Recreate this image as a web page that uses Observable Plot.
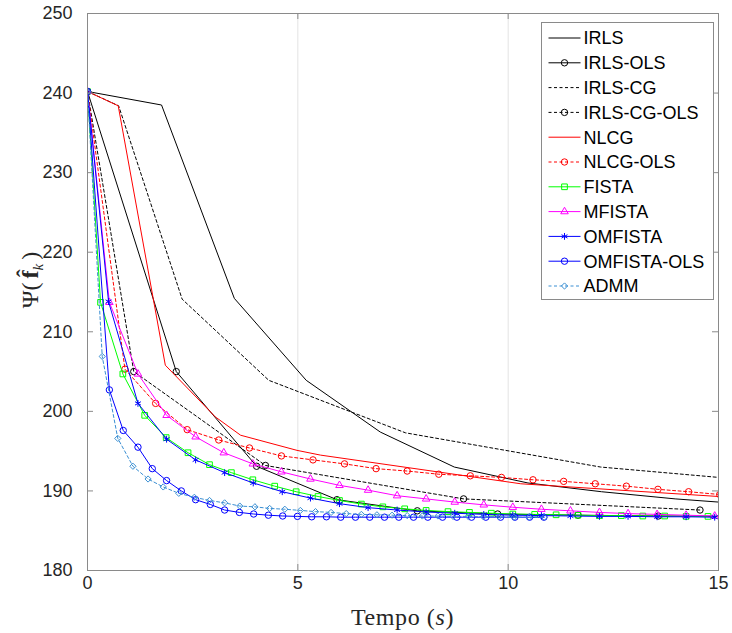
<!DOCTYPE html>
<html><head><meta charset="utf-8">
<script src="https://cdn.jsdelivr.net/npm/d3@7"></script>
<script src="https://cdn.jsdelivr.net/npm/@observablehq/plot@0.6"></script>
<style>body{margin:0;background:#fff}#chart{width:732px;height:633px}</style>
</head><body><div id="chart"></div>
<script>
// ---- data ----
const xTicks = [0, 5, 10, 15];
const yTicks = [180, 190, 200, 210, 220, 230, 240, 250];
const seriesNames = ["IRLS","IRLS-OLS","IRLS-CG","IRLS-CG-OLS","NLCG","NLCG-OLS","FISTA","MFISTA","OMFISTA","OMFISTA-OLS","ADMM"];

const irlsT = [0, 1.76, 3.49, 5.2, 6.96, 8.72, 10.47, 12.22, 13.97, 15.0];
const irlsV = [240.2, 238.5, 214.2, 203.9, 197.4, 193.0, 191.0, 189.9, 189.0, 188.6];

const irlsOlsT = [0, 2.11, 4.02, 5.93, 7.84, 9.75, 11.66, 13.57, 15.48];
const irlsOlsV = [240.2, 205.0, 193.1, 188.9, 187.5, 187.1, 186.95, 186.85, 186.8];

const irlsCgT = [0, 0.74, 2.25, 4.31, 7.56, 12.2, 15.0];
const irlsCgV = [240.2, 238.4, 214.1, 203.9, 197.3, 193.0, 191.7];

const irlsCgOlsT = [0, 1.10, 4.23, 8.94, 14.56];
const irlsCgOlsV = [240.2, 205.0, 193.2, 189.0, 187.6];

const nlcgT = [0, 0.73, 1.85, 3.04, 3.64, 4.98, 5.54, 10.3, 15.0];
const nlcgV = [240.2, 238.4, 205.8, 199.3, 197.0, 195.1, 194.5, 190.9, 189.3];

const nlcgOlsT = [0, 0.89, 1.62, 2.37, 3.12, 3.85, 4.61, 5.36, 6.11, 6.86, 7.60, 8.35, 9.10, 9.84, 10.59, 11.32, 12.07, 12.81, 13.56, 14.29, 15.03];
const nlcgOlsV = [240.2, 205.3, 201.0, 197.7, 196.4, 195.4, 194.4, 193.9, 193.4, 192.8, 192.5, 192.1, 191.9, 191.7, 191.4, 191.2, 190.9, 190.6, 190.2, 189.9, 189.55];

const fistaT = [0, 0.31, 0.84, 1.36, 1.87, 2.39, 2.90, 3.42, 3.93, 4.45, 4.96, 5.48, 5.99, 6.51, 7.02, 7.54, 8.05, 8.57, 9.08, 9.60, 10.11, 10.63, 11.14, 11.66, 12.17, 12.69, 13.20, 13.72, 14.23, 14.75];
const fistaV = [240.2, 213.7, 204.7, 199.5, 196.7, 194.8, 193.3, 192.3, 191.4, 190.6, 189.9, 189.3, 188.8, 188.35, 188.0, 187.75, 187.55, 187.4, 187.3, 187.2, 187.1, 187.05, 187.0, 186.95, 186.9, 186.9, 186.85, 186.85, 186.8, 186.8];

const mfistaT = [0, 0.52, 1.20, 1.88, 2.57, 3.24, 3.93, 4.61, 5.30, 5.99, 6.67, 7.36, 8.05, 8.73, 9.42, 10.11, 10.79, 11.48, 12.17, 12.85, 13.54, 14.23, 14.91];
const mfistaV = [240.2, 213.7, 204.7, 199.5, 196.8, 194.8, 193.4, 192.4, 191.5, 190.7, 190.1, 189.4, 189.0, 188.6, 188.25, 187.95, 187.7, 187.5, 187.3, 187.15, 187.05, 186.95, 186.85];

const omfistaT = [0, 0.50, 1.20, 1.88, 2.57, 3.26, 3.94, 4.63, 5.30, 5.99, 6.67, 7.36, 8.05, 8.73, 9.42, 10.11, 10.79, 11.48, 12.17, 12.85, 13.54, 14.23, 14.91];
const omfistaV = [240.2, 213.8, 201.0, 196.5, 193.9, 192.3, 191.0, 189.9, 189.1, 188.4, 187.9, 187.6, 187.35, 187.2, 187.05, 186.95, 186.9, 186.85, 186.8, 186.8, 186.75, 186.75, 186.7];

const omfistaOlsT = [0, 0.52, 0.85, 1.20, 1.54, 1.88, 2.23, 2.57, 2.92, 3.26, 3.61, 3.95, 4.30, 4.64, 4.99, 5.33, 5.68, 6.02, 6.37, 6.71, 7.06, 7.40, 7.75, 8.09, 8.44, 8.78, 9.13, 9.47, 9.82, 10.16, 10.51, 10.85];
const omfistaOlsV = [240.2, 202.7, 197.6, 195.5, 192.8, 191.3, 190.0, 188.9, 188.3, 187.6, 187.3, 187.1, 186.95, 186.85, 186.8, 186.75, 186.75, 186.7, 186.7, 186.7, 186.7, 186.7, 186.7, 186.7, 186.7, 186.7, 186.7, 186.7, 186.7, 186.7, 186.7, 186.7];

const admmT = [0, 0.35, 0.72, 1.08, 1.44, 1.80, 2.17, 2.54, 2.90, 3.26, 3.62, 3.98, 4.33, 4.69, 5.06, 5.42, 5.79, 6.15, 6.51, 6.88, 7.24, 7.60, 7.96, 8.33, 8.69, 9.05, 9.41, 9.78, 10.14, 10.50, 10.86];
const admmV = [240.2, 206.9, 196.6, 193.1, 191.5, 190.5, 189.7, 189.2, 188.8, 188.5, 188.1, 188.0, 187.8, 187.7, 187.55, 187.4, 187.3, 187.15, 187.05, 187.0, 186.95, 186.9, 186.85, 186.85, 186.8, 186.8, 186.75, 186.75, 186.7, 186.7, 186.7];

const seriesT = [irlsT, irlsOlsT, irlsCgT, irlsCgOlsT, nlcgT, nlcgOlsT, fistaT, mfistaT, omfistaT, omfistaOlsT, admmT];
const seriesV = [irlsV, irlsOlsV, irlsCgV, irlsCgOlsV, nlcgV, nlcgOlsV, fistaV, mfistaV, omfistaV, omfistaOlsV, admmV];

// ---- styles ----
const seriesColors = ["#000000","#000000","#000000","#000000","#ff0000","#ff0000","#00ff00","#ff00ff","#0000ff","#0000ff","#3a8fd3"];
const seriesDash = [null,null,"3,2.5","3,2.5",null,"3,2.5",null,null,null,null,"3,2.5"];
const seriesSymbols = [null,"circle",null,"circle",null,"circle","square","triangle","asterisk","circle","diamond2"];
const symbolR = {circle: 3.2, square: 3.2, triangle: 2.8, asterisk: 3.2, diamond2: 2.8};

const W = 732, H = 633, mL = 87, mR = 14, mT = 13, mB = 63;
const plotW = W - mL - mR, plotH = H - mT - mB;
const axisColor = "#8a8a8a";

const marks = [
  Plot.gridX(xTicks.slice(1, -1), {stroke: "#e3e3e3", strokeOpacity: 1}),
];
seriesNames.forEach((name, i) => {
  const rows = seriesT[i].map((t, j) => ({t, v: seriesV[i][j]}));
  marks.push(Plot.line(rows, {x: "t", y: "v", stroke: seriesColors[i], strokeWidth: 1,
    strokeDasharray: seriesDash[i], clip: true}));
  if (seriesSymbols[i]) {
    marks.push(Plot.dot(rows, {x: "t", y: "v", symbol: seriesSymbols[i], r: symbolR[seriesSymbols[i]],
      stroke: seriesColors[i], fill: "none", strokeWidth: 1, clip: true}));
  }
});
marks.push(
  Plot.frame({stroke: axisColor, strokeWidth: 1}),
  Plot.tickX(xTicks, {x: d => d, insetTop: plotH - 6, stroke: axisColor}),
  Plot.tickX(xTicks, {x: d => d, insetBottom: plotH - 6, stroke: axisColor}),
  Plot.tickY(yTicks, {y: d => d, insetRight: plotW - 6, stroke: axisColor}),
  Plot.tickY(yTicks, {y: d => d, insetLeft: plotW - 6, stroke: axisColor}),
  Plot.axisX(xTicks, {tickSize: 0, tickPadding: 6, label: null, fill: "#262626"}),
  Plot.axisY(yTicks, {tickSize: 0, tickPadding: 15, label: null, fill: "#262626"})
);

const chart = Plot.plot({
  width: W, height: H,
  marginLeft: mL, marginRight: mR, marginTop: mT, marginBottom: mB,
  x: {domain: [0, 15]},
  y: {domain: [180, 250]},
  style: {fontFamily: "'Liberation Sans', Arial, sans-serif", fontSize: "18px", color: "#262626", background: "#fff"},
  marks
});
document.getElementById("chart").appendChild(chart);

// ---- labels & legend ----
const svg = d3.select(chart);
const serif = "'Liberation Serif', 'DejaVu Serif', serif";

const xl = svg.append("text").attr("x", mL + plotW / 2).attr("y", 625)
  .attr("text-anchor", "middle").style("font-family", serif).style("font-size", "24px")
  .style("letter-spacing", "0.6px").attr("fill", "#262626");
xl.append("tspan").text("Tempo (");
xl.append("tspan").style("font-style", "italic").text("s");
xl.append("tspan").text(")");

const yl = svg.append("text").attr("transform", "translate(38,280) rotate(-90)")
  .attr("text-anchor", "middle").style("font-family", serif).style("font-size", "24px").attr("fill", "#262626");
yl.append("tspan").text("Ψ(");
yl.append("tspan").attr("dx", 4).style("font-weight", "bold").text("f\u0302");
yl.append("tspan").attr("dy", 5).style("font-style", "italic").style("font-size", "15px").text("k");
yl.append("tspan").attr("dy", -5).attr("dx", 4).text(")");

const leg = svg.append("g").attr("transform", "translate(541.5,22.5)");
leg.append("rect").attr("width", 172).attr("height", 277).attr("fill", "#fff").attr("stroke", axisColor);
const symMap = {circle: d3.symbolCircle, square: d3.symbolSquare, triangle: d3.symbolTriangle,
  asterisk: d3.symbolAsterisk, diamond2: d3.symbolDiamond2};
seriesNames.forEach((name, i) => {
  const y = 15.5 + i * 24.8;
  const g = leg.append("g").attr("transform", `translate(0,${y})`);
  g.append("line").attr("x1", 7).attr("x2", 39).attr("stroke", seriesColors[i]).attr("stroke-width", 1)
    .attr("stroke-dasharray", seriesDash[i]);
  if (seriesSymbols[i]) {
    const r = symbolR[seriesSymbols[i]];
    g.append("path").attr("transform", "translate(23,0)")
      .attr("d", d3.symbol(symMap[seriesSymbols[i]], Math.PI * r * r)())
      .attr("fill", "none").attr("stroke", seriesColors[i]);
  }
  g.append("text").attr("x", 42).attr("dy", "0.36em").attr("text-anchor", "start")
    .style("font-family", "'Liberation Sans', Arial, sans-serif")
    .style("font-size", "18px").attr("fill", "#000").text(name);
});
</script>
</body></html>
